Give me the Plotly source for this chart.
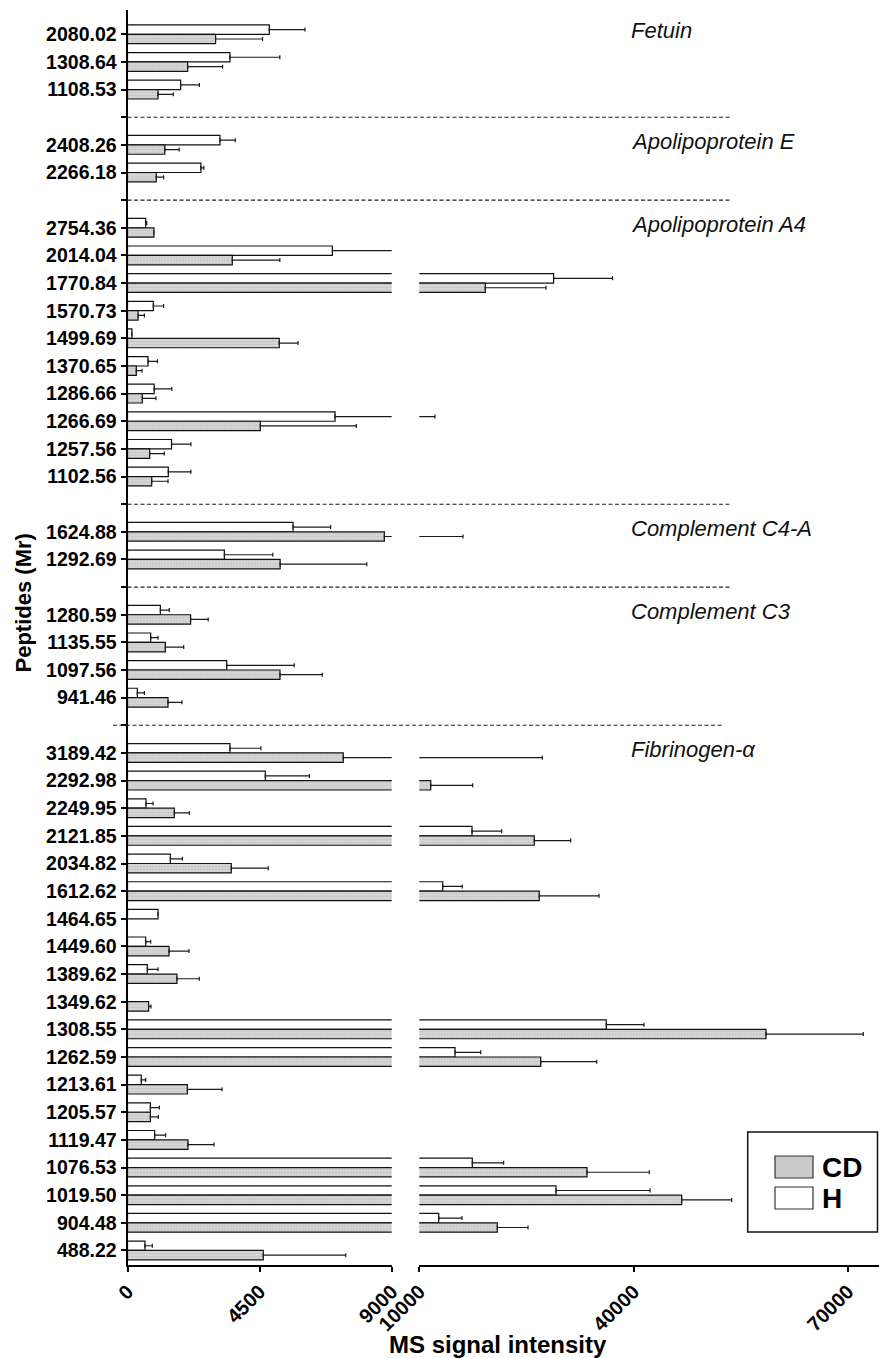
import plotly.graph_objects as go

# ---- data -------------------------------------------------------------
proteins = ["Fetuin", "Apolipoprotein E", "Apolipoprotein A4",
            "Complement C4-A", "Complement C3", "Fibrinogen-<i>α</i>"]
group_sizes = [3, 2, 10, 2, 4, 19]

peptides = [
    "2080.02", "1308.64", "1108.53",
    "2408.26", "2266.18",
    "2754.36", "2014.04", "1770.84", "1570.73", "1499.69",
    "1370.65", "1286.66", "1266.69", "1257.56", "1102.56",
    "1624.88", "1292.69",
    "1280.59", "1135.55", "1097.56", "941.46",
    "3189.42", "2292.98", "2249.95", "2121.85", "2034.82", "1612.62",
    "1464.65", "1449.60", "1389.62", "1349.62", "1308.55", "1262.59",
    "1213.61", "1205.57", "1119.47", "1076.53", "1019.50", "904.48",
    "488.22",
]

h_mean = [
    4830, 3490, 1810,
    3150, 2500,
    620, 6980, 28800, 880, 150, 700, 910, 7070, 1500, 1390,
    5640, 3300,
    1120, 790, 3380, 335,
    3490, 4695, 630, 17380, 1460, 13280, 1040, 620, 675, None,
    36180, 15000, 470, 780, 925, 17420, 29140, 12720, 595,
]
h_err = [
    1216, 1700, 640,
    520, 100,
    35, 2600, 8260, 350, None, 320, 600, 5130, 660, 770,
    1280, 1650,
    305, 250, 2300, 240,
    1055, 1500, 240, 4160, 410, 2740, None, 170, 365, None,
    5280, 3600, 150, 305, 375, 4390, 13160, 3260, 250,
]
cd_mean = [
    3000, 2050, 1040,
    1270, 980,
    900, 3570, 19240, 360, 5170, 300, 505, 4525, 755, 825,
    8750, 5200,
    2150, 1290, 5195, 1380,
    7350, 11600, 1595, 26100, 3535, 26800, None, 1415, 1685, 720,
    58540, 27000, 2040, 780, 2060, 33480, 46740, 20920, 4625,
]
cd_err = [
    1600, 1190, 520,
    490, 250,
    None, 1620, 8500, 215, 640, 195, 465, 3270, 500, 555,
    7370, 2950,
    600, 625, 1440, 475,
    19870, 5880, 510, 5100, 1260, 8360, None, 680, 760, 80,
    13620, 7840, 1180, 270, 885, 8720, 7000, 4300, 2810,
]

left_ticks = [0, 4500, 9000]
right_ticks = [10000, 40000, 70000]
left_range = [0, 9000]
right_range = [10000, 74360]

# ---- row layout: one blank row between protein groups ----------------
positions, separators, group_first = [], [], []
slot = 0
for gi, n in enumerate(group_sizes):
    if gi > 0:
        separators.append(slot)
        slot += 1
    group_first.append(slot)
    for _ in range(n):
        positions.append(slot)
        slot += 1

tick_vals = list(range(slot))
tick_text = [""] * slot
for p, lab in zip(positions, peptides):
    tick_text[p] = lab

# ---- page geometry ----------------------------------------------------
W, H = 879, 1358
def px(x):
    return x / W
def py(y):
    return 1 - y / H

FONT = "Liberation Sans, Arial, sans-serif"
BAR_W = 0.34
CD_FILL = "#d8d8d8"

fig = go.Figure()


def add_series(xaxis):
    err_style = dict(type="data", symmetric=False, width=2,
                     thickness=1.2, color="#1a1a1a")
    fig.add_trace(go.Bar(
        y=positions, x=h_mean, orientation="h", name="H",
        width=BAR_W, offset=-BAR_W, xaxis=xaxis, yaxis="y",
        marker=dict(color="white", line=dict(color="#111111", width=1.2)),
        error_x=dict(array=h_err, arrayminus=[0] * len(h_err), **err_style),
        showlegend=False, hoverinfo="skip",
    ))
    fig.add_trace(go.Bar(
        y=positions, x=cd_mean, orientation="h", name="CD",
        width=BAR_W, offset=0, xaxis=xaxis, yaxis="y",
        marker=dict(color=CD_FILL, line=dict(color="#111111", width=1.2),
                    pattern=dict(shape="+", fgcolor="#a8a8a8", size=3,
                                 solidity=0.3)),
        error_x=dict(array=cd_err, arrayminus=[0] * len(cd_err), **err_style),
        showlegend=False, hoverinfo="skip",
    ))


add_series("x")
add_series("x2")

y_top, y_bot = 10, 1265
row0, row_h = 34.3, 27.64
y_range = [(y_bot - row0) / row_h, (y_top - row0) / row_h]

x_common = dict(
    showline=True, linecolor="black", linewidth=2,
    ticks="outside", ticklen=5, tickwidth=2, tickcolor="black",
    tickangle=-45, showgrid=False, zeroline=False, automargin=False,
    tickfont=dict(family=FONT, size=20, color="black", weight="bold"),
    anchor="y",
)
x_inside = dict(ticks="inside", ticklen=5, tickwidth=2, tickcolor="black",
                showticklabels=False, showline=False, showgrid=False,
                zeroline=False, anchor="y", automargin=False)

fig.update_layout(
    width=W, height=H,
    margin=dict(l=0, r=0, t=0, b=0, autoexpand=False),
    paper_bgcolor="white", plot_bgcolor="white",
    barmode="overlay",
    xaxis=dict(domain=[px(127.5), px(391.7)], range=left_range,
               tickvals=left_ticks, ticktext=[str(v) for v in left_ticks],
               **x_common),
    xaxis2=dict(domain=[px(419.3), 1.0], range=right_range,
                tickvals=right_ticks, ticktext=[str(v) for v in right_ticks],
                **x_common),
    xaxis3=dict(overlaying="x", range=left_range, tickvals=left_ticks,
                **x_inside),
    xaxis4=dict(overlaying="x2", range=right_range, tickvals=right_ticks,
                **x_inside),
    yaxis=dict(domain=[py(y_bot), py(y_top)], range=y_range,
               tickvals=tick_vals, ticktext=tick_text,
               showline=True, linecolor="black", linewidth=2,
               ticks="outside", ticklen=5, tickwidth=2, tickcolor="black",
               showgrid=False, zeroline=False, anchor="x", automargin=False,
               tickfont=dict(family=FONT, size=19.5, color="black",
                             weight="bold")),
)

# dashed lines between protein groups
for i, s in enumerate(separators):
    last = i == len(separators) - 1
    fig.add_shape(type="line", xref="paper", yref="y",
                  x0=px(113 if last else 127.5), x1=px(722 if last else 731),
                  y0=s, y1=s,
                  line=dict(color="#222222", width=1.1, dash="4px,2.5px"))

# protein names
for name, first in zip(proteins, group_first):
    fig.add_annotation(text=f"<i>{name}</i>", xref="paper", yref="y",
                       x=px(629), y=first - 0.13, xanchor="left",
                       yanchor="middle", showarrow=False,
                       font=dict(family=FONT, size=22, color="#111111"))

# axis titles
fig.add_annotation(text="<b>Peptides (Mr)</b>", xref="paper", yref="paper",
                   x=px(23), y=py(603.5), textangle=-90, showarrow=False,
                   xanchor="center", yanchor="middle",
                   font=dict(family=FONT, size=22, color="black"))
fig.add_annotation(text="<b>MS signal intensity</b>", xref="paper",
                   yref="paper", x=px(498), y=py(1344), showarrow=False,
                   xanchor="center", yanchor="middle",
                   font=dict(family=FONT, size=24, color="black"))

# legend box
fig.add_shape(type="rect", xref="paper", yref="paper",
              x0=px(747.7), x1=px(877.5), y0=py(1232), y1=py(1132),
              line=dict(color="#111111", width=1.5), fillcolor="white")
fig.add_shape(type="rect", xref="paper", yref="paper",
              x0=px(775), x1=px(813), y0=py(1178), y1=py(1156),
              line=dict(color="#333333", width=1.2), fillcolor="#cbcbcb")
fig.add_shape(type="rect", xref="paper", yref="paper",
              x0=px(775), x1=px(813), y0=py(1209), y1=py(1187),
              line=dict(color="#333333", width=1.2), fillcolor="white")
for label, yc in [("CD", 1167), ("H", 1198)]:
    fig.add_annotation(text=f"<b>{label}</b>", xref="paper", yref="paper",
                       x=px(820), y=py(yc), xanchor="left", yanchor="middle",
                       showarrow=False,
                       font=dict(family=FONT, size=28, color="black"))

fig.write_html("out.html")
